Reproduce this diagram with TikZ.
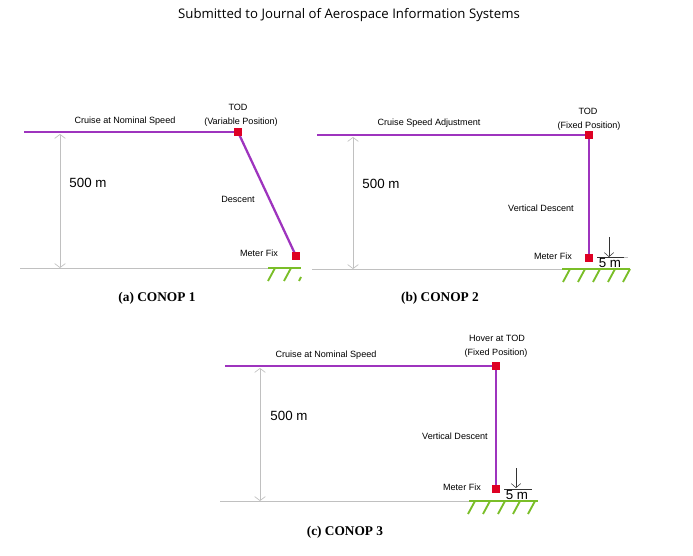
\documentclass[tikz,border=0pt]{standalone}
\usepackage{fontspec}
\setmainfont{Liberation Serif}
\setsansfont{Liberation Sans}
\newfontfamily\headfont{Open Sans}
\usetikzlibrary{arrows.meta, positioning}

\definecolor{trackpurple}{RGB}{158,52,190}
\definecolor{fixred}{RGB}{222,0,36}
\definecolor{groundgreen}{RGB}{122,190,40}
\definecolor{dimgray}{RGB}{192,192,192}

\begin{document}
\begin{tikzpicture}[
    x=0.75pt, y=-0.75pt,
    track/.style={draw=trackpurple, line width=1.7pt},
    fixbox/.style={rectangle, fill=fixred, minimum size=6.5pt, inner sep=0pt},
    txt/.style={font=\sffamily\fontsize{6.8}{8}\selectfont, inner sep=0pt},
    height/.style={font=\sffamily\fontsize{10}{12}\selectfont, inner sep=0pt},
    caption/.style={font=\bfseries\fontsize{10}{12}\selectfont, inner sep=0pt},
    dim/.style={draw=dimgray, line width=0.5pt, {Straight Barb[length=3pt,width=8pt]}-{Straight Barb[length=3pt,width=8pt]}},
    floor/.style={draw=dimgray, line width=0.6pt},
    turf/.style={draw=groundgreen, line width=1.6pt},
    hatch/.style={draw=groundgreen, line width=1.4pt},
    gap/.style={draw=black!80, line width=0.4pt},
    gaparrow/.style={draw=black!80, line width=0.4pt, -{Straight Barb[length=3pt,width=7pt]}}
]
    \useasboundingbox (0,0) rectangle (693,556);

    % Header
    \node[font=\headfont\fontsize{9.9}{12}\selectfont, inner sep=0pt] (head) at (349,15) {Submitted to Journal of Aerospace Information Systems};

    % (a) CONOP 1
    \coordinate (s1) at (24,132);
    \node[fixbox] (tod1) at (238,132) {};
    \node[fixbox] (fix1) at (296,256) {};
    \draw[track] (s1) -- (tod1.center);
    \draw[track] (tod1.center) -- (fix1.center);
    \node[fixbox] at (tod1) {};
    \node[fixbox] at (fix1) {};
    \node[txt] (cr1) at (125,121) {Cruise at Nominal Speed};
    \node[txt] (tl1) at (238,107) {TOD};
    \node[txt] (vp1) at (241,122) {(Variable Position)};
    \node[txt] (ds1) at (238,199) {Descent};
    \node[txt] (mf1) at (259,253) {Meter Fix};
    \coordinate (g1a) at (20,268);
    \coordinate (g1b) at (268,268);
    \coordinate (g1c) at (301,268);
    \draw[floor] (g1a) -- (g1b);
    \draw[turf] (g1b) -- (g1c);
    \foreach \hx in {268,284} \draw[hatch] (\hx,281) -- ++(7,-13);
    \draw[hatch] (299,281) -- (301,277);
    \coordinate (d1t) at (60,134);
    \coordinate (d1b) at (60,268);
    \draw[dim] (d1t) -- (d1b);
    \node[height] (h1) at (88,183) {500 m};
    \node[caption] (cap1) at (157,298) {(a) CONOP 1};

    % (b) CONOP 2
    \coordinate (s2) at (317,135);
    \node[fixbox] (tod2) at (589,135) {};
    \node[fixbox] (fix2) at (589,258) {};
    \draw[track] (s2) -- (tod2.center);
    \draw[track] (tod2.center) -- (fix2.center);
    \node[fixbox] at (tod2) {};
    \node[fixbox] at (fix2) {};
    \node[txt] (cr2) at (429,123) {Cruise Speed Adjustment};
    \node[txt] (tl2) at (588,111) {TOD};
    \node[txt] (fp2) at (589,126) {(Fixed Position)};
    \node[txt] (ds2) at (541,208) {Vertical Descent};
    \node[txt] (mf2) at (553,256) {Meter Fix};
    \coordinate (g2a) at (312,269);
    \coordinate (g2b) at (562,269);
    \coordinate (g2c) at (630,269);
    \draw[floor] (g2a) -- (g2b);
    \draw[turf] (g2b) -- (g2c);
    \foreach \hx in {563,578,...,623} \draw[hatch] (\hx,282) -- ++(7,-13);
    \coordinate (d2t) at (353,137);
    \coordinate (d2b) at (353,269);
    \draw[dim] (d2t) -- (d2b);
    \node[height] (h2) at (381,184) {500 m};
    \coordinate (m2a) at (597,257);
    \coordinate (m2b) at (624,257);
    \coordinate (m2c) at (628,257);
    \coordinate (a2t) at (609,237);
    \coordinate (a2b) at (609,257);
    \draw[gap] (m2a) -- (m2b);
    \draw[floor] (m2b) -- (m2c);
    \draw[gaparrow] (a2t) -- (a2b);
    \node[height] (f2) at (610,263) {5 m};
    \node[caption] (cap2) at (440,298) {(b) CONOP 2};

    % (c) CONOP 3
    \coordinate (s3) at (225,366);
    \node[fixbox] (tod3) at (496,366) {};
    \node[fixbox] (fix3) at (496,489) {};
    \draw[track] (s3) -- (tod3.center);
    \draw[track] (tod3.center) -- (fix3.center);
    \node[fixbox] at (tod3) {};
    \node[fixbox] at (fix3) {};
    \node[txt] (cr3) at (326,355) {Cruise at Nominal Speed};
    \node[txt] (tl3) at (497,338) {Hover at TOD};
    \node[txt] (fp3) at (496,353) {(Fixed Position)};
    \node[txt] (ds3) at (455,436) {Vertical Descent};
    \node[txt] (mf3) at (462,487) {Meter Fix};
    \coordinate (g3a) at (220,501);
    \coordinate (g3b) at (469,501);
    \coordinate (g3c) at (538,501);
    \draw[floor] (g3a) -- (g3b);
    \draw[turf] (g3b) -- (g3c);
    \foreach \hx in {468,483,...,528} \draw[hatch] (\hx,514) -- ++(7,-13);
    \coordinate (d3t) at (260,368);
    \coordinate (d3b) at (260,501);
    \draw[dim] (d3t) -- (d3b);
    \node[height] (h3) at (289,416) {500 m};
    \coordinate (m3a) at (504,489);
    \coordinate (m3b) at (532,489);
    \coordinate (a3t) at (516,468);
    \coordinate (a3b) at (516,488);
    \draw[gap] (m3a) -- (m3b);
    \draw[gaparrow] (a3t) -- (a3b);
    \node[height] (f3) at (517,495) {5 m};
    \node[caption] (cap3) at (345,532) {(c) CONOP 3};
\end{tikzpicture}
\end{document}
